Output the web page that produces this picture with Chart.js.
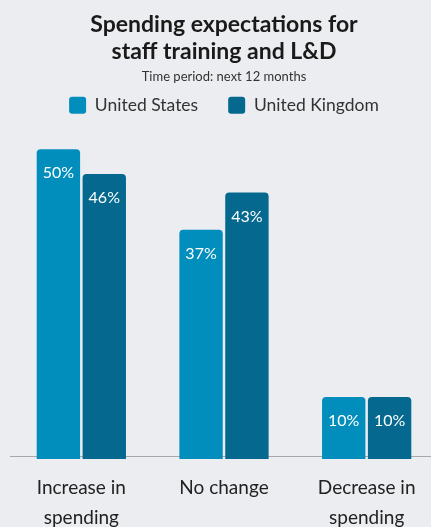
<!DOCTYPE html>
<html>
<head>
<meta charset="utf-8">
<script src="https://cdn.jsdelivr.net/npm/chart.js@4/dist/chart.umd.min.js"></script>
<style>
  html, body { margin:0; padding:0; background:#ECEDF0; overflow:hidden; }
  #wrap { position:relative; width:440px; height:543px; }
</style>
</head>
<body>
<div id="wrap"><canvas id="c"></canvas></div>
<script>
/* ---- data ------------------------------------------------------------ */
const CATEGORIES = [["Increase in","spending"], "No change", ["Decrease in","spending"]];
const SERIES_NAMES = ["United States", "United Kingdom"];
const US_VALUES = [50, 37, 10];
const UK_VALUES = [46, 43, 10];
const COLORS = ["#028EBD", "#04688F"];
const FONT = "Lato";

/* ---- value labels inside bar tops ------------------------------------ */
const barLabels = {
  id: "barLabels",
  afterDatasetsDraw(chart){
    const ctx = chart.ctx;
    ctx.save();
    ctx.fillStyle = "#ffffff";
    ctx.font = "16px " + FONT;
    ctx.textAlign = "center";
    ctx.textBaseline = "middle";
    chart.data.datasets.forEach((ds, i) => {
      chart.getDatasetMeta(i).data.forEach((bar, j) => {
        ctx.fillText(ds.data[j] + "%", bar.x, bar.y + 24);
      });
    });
    ctx.restore();
  }
};

new Chart(document.getElementById("c"), {
  type: "bar",
  data: {
    labels: CATEGORIES,
    datasets: [
      { label: SERIES_NAMES[0], data: US_VALUES, backgroundColor: COLORS[0] },
      { label: SERIES_NAMES[1], data: UK_VALUES, backgroundColor: COLORS[1] }
    ]
  },
  plugins: [barLabels],
  options: {
    responsive: true,
    maintainAspectRatio: false,
    animation: false,
    layout: { padding: { left: 10, right: 2, top: 0, bottom: 0 } },
    datasets: { bar: { categoryPercentage: 0.643, barPercentage: 0.946, borderRadius: 4, borderSkipped: "bottom" } },
    plugins: {
      title: {
        display: true,
        text: ["Spending expectations for", "staff training and L&D"],
        color: "#1a1a1a",
        font: { family: FONT, size: 23, weight: "bold", lineHeight: 1.17 },
        padding: { top: 11, bottom: 4 }
      },
      subtitle: {
        display: true,
        text: "Time period: next 12 months",
        color: "#333333",
        font: { family: FONT, size: 13, lineHeight: 1.2 },
        padding: { top: 0, bottom: -18 }
      },
      legend: {
        display: true,
        labels: {
          color: "#333333",
          font: { family: FONT, size: 17.5 },
          boxWidth: 17, boxHeight: 17,
          useBorderRadius: true, borderRadius: 3,
          padding: 30
        }
      },
      tooltip: { enabled: false }
    },
    scales: {
      x: {
        grid: { display: false },
        border: { display: true, color: "#A8A8A8", width: 1 },
        ticks: { color: "#222222", font: { family: FONT, size: 19, lineHeight: 1.58 }, padding: 8, maxRotation: 0, autoSkip: false }
      },
      y: {
        display: false,
        min: 0,
        max: 53.7
      }
    }
  }
});
</script>
</body>
</html>
